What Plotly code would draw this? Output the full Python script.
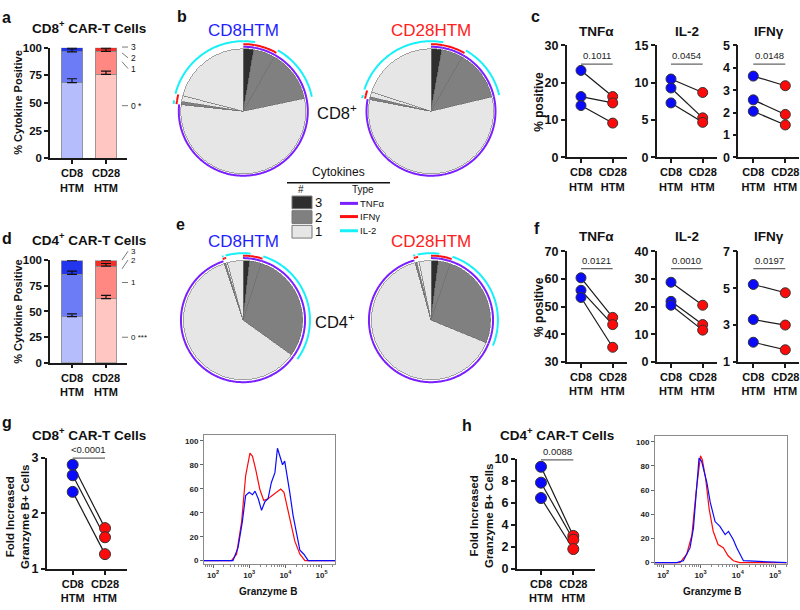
import copy
import numpy as np
import plotly.graph_objects as go

W, H = 800, 610
FN = "Liberation Sans, Arial, sans-serif"
FR = "Liberation Sans, Arial, sans-serif"

# ------------------------------------------------------------------ data
groups = ["CD8<br>HTM", "CD28<br>HTM"]
n_cytokines = ["1", "2", "3"]

# a: CD8+ CAR-T, % of cytokine+ cells making 1 / 2 / 3 cytokines (stacked)
a_cd8 = [68.5, 27.7, 3.8]
a_cd28 = [76.0, 20.8, 3.2]
a_cd8_err = [3.5, 2.8, 0.4]
a_cd28_err = [2.8, 2.3, 0.4]
a_side_labels = ["3", "2", "1", "0 *"]

# d: CD4+ CAR-T
d_cd8 = [45.0, 41.3, 13.4]
d_cd28 = [62.5, 31.8, 5.4]
d_cd8_err = [2.6, 3.2, 0.4]
d_cd28_err = [3.2, 2.6, 0.4]
d_side_labels = ["3", "2", "1", "0 ***"]

# b / e: SPICE pies (% of cytokine+ cells)
cytokines = ["TNFα", "IFNγ", "IL-2"]
spice_labels = ["TNFα+IFNγ+IL-2", "TNFα+IFNγ", "TNFα+IL-2", "TNFα",
                "IFNγ+IL-2", "IFNγ", "IL-2"]
pie_b_cd8 = [2.7, 5.5, 13.5, 55.0, 0.8, 1.5, 21.0]
pie_b_cd28 = [2.8, 5.5, 13.0, 56.7, 0.7, 1.3, 20.0]
pie_e_cd8 = [1.8, 3.1, 30.0, 60.0, 0.4, 0.5, 4.2]
pie_e_cd28 = [2.0, 3.2, 26.0, 64.5, 0.5, 0.6, 3.2]

# c / f panel order
panel_cytokines = ["TNFα", "IL-2", "IFNγ"]

# c: CD8+ % positive (paired donors)
c_tnf_cd8, c_tnf_cd28 = [23.3, 16.3, 13.9], [16.3, 14.6, 9.2]
c_il2_cd8, c_il2_cd28 = [10.5, 9.3, 7.3], [8.7, 5.3, 4.7]
c_ifn_cd8, c_ifn_cd28 = [3.63, 2.57, 2.06], [3.2, 1.92, 1.45]
c_pvals = ["0.1011", "0.0454", "0.0148"]

# f: CD4+ % positive
f_tnf_cd8, f_tnf_cd28 = [60.4, 55.9, 53.3], [46.1, 43.5, 35.3]
f_il2_cd8, f_il2_cd28 = [28.8, 21.9, 20.5], [20.5, 13.5, 11.5]
f_ifn_cd8, f_ifn_cd28 = [5.2, 3.3, 2.07], [4.75, 3.0, 1.66]
f_pvals = ["0.0121", "0.0010", "0.0197"]

# g / h: fold increase granzyme B+ cells
g_cd8, g_cd28 = [2.88, 2.69, 2.39], [1.735, 1.57, 1.265]
g_pval = "<0.0001"
h_cd8, h_cd28 = [9.3, 7.85, 6.45], [3.0, 2.65, 1.8]
h_pval = "0.0088"

# histograms (log10 granzyme B intensity, % of max)
g_red_log = [1.75, 2.51, 2.65, 2.79, 2.90, 3.02, 3.09, 3.18, 3.29, 3.40, 3.52,
             3.64, 3.77, 3.87, 3.96, 4.05, 4.14, 4.26, 4.40, 4.54, 5.37]
g_red_cnt = [0, 0, 5.4, 32.6, 70.7, 89.7, 87, 76, 59.8, 50.3, 51.6,
             54.3, 57, 59.8, 57, 46, 32.6, 16.3, 5.4, 0, 0]
g_blue_log = [1.75, 2.55, 2.69, 2.81, 2.90, 3.0, 3.09, 3.16, 3.25, 3.34, 3.43,
              3.52, 3.61, 3.71, 3.78, 3.84, 3.92, 3.98, 4.05, 4.12, 4.21,
              4.31, 4.40, 4.51, 4.63, 5.37]
g_blue_cnt = [0, 0, 10.9, 32.6, 54.3, 57, 55, 58, 51.6, 42, 49,
              51.6, 65, 73.4, 93.8, 88.3, 80, 83, 70.7, 57, 38,
              21.7, 8.7, 5.4, 0, 0]
h_red_log = [1.78, 2.45, 2.63, 2.77, 2.88, 3.0, 3.05, 3.14, 3.23, 3.34, 3.47,
             3.61, 3.74, 3.88, 4.05, 5.31]
h_red_cnt = [0, 0, 7, 23, 58, 88.4, 85, 69, 44.7, 26, 15, 12.4, 5.7, 1.6, 0, 0]
h_blue_log = [1.78, 2.36, 2.54, 2.72, 2.81, 2.88, 2.96, 3.03, 3.09, 3.17, 3.26,
              3.39, 3.52, 3.66, 3.75, 3.88, 3.97, 4.15, 5.31]
h_blue_cnt = [0, 0, 1.6, 12.4, 28.6, 55.5, 86.5, 83.8, 77, 66.3, 50,
              34, 30, 23.2, 25.9, 19, 12.4, 1.6, 0]
hist_ticks = [2, 3, 4, 5]

# ------------------------------------------------------------------ styles
BLUE, RED = "#0a0aff", "#ff0a0a"
blue_shades = ["#b6bdfd", "#6c7cf6", "#2336ee"]
red_shades = ["#ffc6c2", "#ff8882", "#f2302a"]
pie_shades = {1: "#e6e6e6", 2: "#808080", 3: "#2e2e2e"}
cyt_colors = {"TNFα": "#7a1fff", "IFNγ": "#ff1010", "IL-2": "#18f0f8"}

fig = go.Figure()

GP = dict(showline=True, linecolor="#1a1a1a", linewidth=1.5, ticks="outside",
          ticklen=4, tickwidth=1.5, tickcolor="#1a1a1a", showgrid=False,
          zeroline=False, fixedrange=True,
          tickfont=dict(family=FN, size=12.5, color="#111", weight="bold"))
_n = [0]


def add_axes(xpx, ypx, xr, yr, xkw=None, ykw=None, base=GP):
    _n[0] += 1
    s = "" if _n[0] == 1 else str(_n[0])
    xa = copy.deepcopy(base)
    ya = copy.deepcopy(base)
    xa.update(domain=[xpx[0] / W, xpx[1] / W], range=xr, anchor="y" + s)
    ya.update(domain=[1 - ypx[1] / H, 1 - ypx[0] / H], range=yr, anchor="x" + s)
    xa.update(xkw or {})
    ya.update(ykw or {})
    fig.update_layout({"xaxis" + s: xa, "yaxis" + s: ya})
    return "x" + s, "y" + s


def cat_range(L, p0, p1, R):
    u = p1 - p0
    return [-(p0 - L) / u, 1 + (R - p1) / u]


def text(px, py, s, size, bold=False, color="#111", family=FN,
         xanchor="center", yanchor="middle", angle=0):
    fig.add_annotation(x=px / W, y=1 - py / H, xref="paper", yref="paper",
                       text=s, showarrow=False, textangle=angle,
                       xanchor=xanchor, yanchor=yanchor, borderpad=0,
                       font=dict(family=family, size=size, color=color,
                                 weight="bold" if bold else "normal"))


def pline(x0, y0, x1, y1, color="#111", width=1.0):
    fig.add_shape(type="line", xref="paper", yref="paper",
                  x0=x0 / W, y0=1 - y0 / H, x1=x1 / W, y1=1 - y1 / H,
                  line=dict(color=color, width=width))


CATX = dict(type="category", categoryorder="array", categoryarray=groups,
            tickfont=dict(family=FN, size=11, color="#111", weight="bold"))


# ------------------------------------------------------------------ stacked bars (a, d)
def stacked_panel(cd8, cd28, e8, e28, ytop, ybot):
    xa, ya = add_axes((50, 127), (ytop, ybot), cat_range(50, 72, 106, 127),
                      [0, 100], xkw=CATX,
                      ykw=dict(dtick=25, tick0=0,
                               tickfont=dict(family=FN, size=11.5, color="#111",
                                             weight="bold")))
    for k in range(len(n_cytokines)):
        fig.add_trace(go.Bar(
            x=groups, y=[cd8[k], cd28[k]], width=0.62, xaxis=xa, yaxis=ya,
            name=n_cytokines[k],
            marker=dict(color=[blue_shades[k], red_shades[k]],
                        line=dict(color="#8a8a8a", width=0.8)),
            showlegend=False, hoverinfo="skip"))
    # error bars drawn above all segments, at each segment's stacked top
    tops8, tops28 = np.cumsum(cd8), np.cumsum(cd28)
    for k in range(len(n_cytokines)):
        fig.add_trace(go.Scatter(
            x=groups, y=[tops8[k], tops28[k]], mode="markers",
            marker=dict(size=1, color="rgba(0,0,0,0)"), xaxis=xa, yaxis=ya,
            error_y=dict(type="data", symmetric=False, array=[e8[k], e28[k]],
                         arrayminus=[0, 0], color="#111", thickness=1.2, width=5),
            cliponaxis=False, showlegend=False, hoverinfo="skip"))


stacked_panel(a_cd8, a_cd28, a_cd8_err, a_cd28_err, 41.7, 155)
stacked_panel(d_cd8, d_cd28, d_cd8_err, d_cd28_err, 259.3, 364)

# side labels for the stacked bars
for lab, (ya0, ya1) in zip(a_side_labels, [(41, 41), (47, 52), (56, 63), (101, 101)]):
    pline(122, ya0, 128, ya1, color="#555", width=0.8)
    text(130, ya1, lab, 8.5, family=FR, xanchor="left")
for lab, (ya0, ya1) in zip(d_side_labels, [(259, 250), (268, 259), (282, 282), (338, 338)]):
    pline(122, ya0, 128, ya1, color="#555", width=0.8)
    text(130, ya1, lab, 8, family=FR, xanchor="left")


# ------------------------------------------------------------------ paired dot panels
def pair_panel(xpx, ypx, yr, dtick, tick0, v8, v28, pval, p_py, msize=10):
    L, p0, p1, R = xpx
    xa, ya = add_axes((L, R), ypx, cat_range(L, p0, p1, R), yr,
                      xkw=CATX, ykw=dict(dtick=dtick, tick0=tick0))
    for a, b in zip(v8, v28):
        fig.add_trace(go.Scatter(x=groups, y=[a, b], mode="lines",
                                 line=dict(color="#1a1a1a", width=1.2),
                                 xaxis=xa, yaxis=ya, cliponaxis=False,
                                 showlegend=False, hoverinfo="skip"))
    for g, vals, col in ((groups[0], v8, BLUE), (groups[1], v28, RED)):
        fig.add_trace(go.Scatter(x=[g] * len(vals), y=vals, mode="markers",
                                 marker=dict(color=col, size=msize,
                                             line=dict(color="#333", width=1)),
                                 xaxis=xa, yaxis=ya, cliponaxis=False,
                                 showlegend=False, hoverinfo="skip"))
    fig.add_shape(type="line", xref=xa, yref="paper", x0=0, x1=1,
                  y0=1 - (p_py + 8.5) / H, y1=1 - (p_py + 8.5) / H,
                  line=dict(color="#666", width=1.2))
    text((p0 + p1) / 2, p_py, pval, 9.5, family=FR, color="#222")
    return xa, ya


c_x = [(566.7, 581, 612.7, 627), (656.7, 671, 702.7, 717), (738.3, 753.3, 785.3, 799)]
c_sets = [(c_tnf_cd8, c_tnf_cd28, [0, 30], 10, 0),
          (c_il2_cd8, c_il2_cd28, [0, 15], 5, 0),
          (c_ifn_cd8, c_ifn_cd28, [0, 5], 1, 0)]
for xpx, (v8, v28, yr, dt, t0), cyt, pv in zip(c_x, c_sets, panel_cytokines, c_pvals):
    pair_panel(xpx, (39.3, 154), yr, dt, t0, v8, v28, pv, 50)
    text((xpx[1] + xpx[2]) / 2, 25, cyt, 13.5, bold=True)

f_sets = [(f_tnf_cd8, f_tnf_cd28, [30, 70], 10, 30),
          (f_il2_cd8, f_il2_cd28, [0, 40], 10, 0),
          (f_ifn_cd8, f_ifn_cd28, [1, 7], 2, 1)]
for xpx, (v8, v28, yr, dt, t0), cyt, pv in zip(c_x, f_sets, panel_cytokines, f_pvals):
    pair_panel(xpx, (250, 363.3), yr, dt, t0, v8, v28, pv, 259.3)
    text((xpx[1] + xpx[2]) / 2, 235, cyt, 13.5, bold=True)

pair_panel((46.7, 72.7, 105, 126.7), (461.7, 575), [1, 3], 1, 1,
           g_cd8, g_cd28, g_pval, 453.3, msize=11)
pair_panel((516.7, 541, 573.3, 595), (462.7, 575), [0, 10], 2, 0,
           h_cd8, h_cd28, h_pval, 455, msize=11)

# ------------------------------------------------------------------ histograms
HB = dict(showline=True, mirror=True, linecolor="#8a8a8a", linewidth=1,
          ticks="outside", ticklen=3, tickwidth=1, tickcolor="#666",
          showgrid=False, zeroline=False, fixedrange=True,
          tickfont=dict(family=FR, size=8, color="#222", weight="bold"))
minor_vals = [k * 10 ** e for e in range(1, 6) for k in range(2, 10)]


def hist_panel(xpx, ypx, xr, yr, red_log, red_cnt, blue_log, blue_cnt):
    xa, ya = add_axes(xpx, ypx, xr, yr, base=HB,
                      xkw=dict(type="log", tickvals=[10 ** t for t in hist_ticks],
                               ticktext=["10<sup>%d</sup>" % t for t in hist_ticks],
                               minor=dict(ticks="outside", ticklen=2, tickcolor="#888",
                                          tickvals=minor_vals)),
                      ykw=dict(tickvals=[0, 20, 40, 60, 80, 100]))
    for lg, cnt, col in ((red_log, red_cnt, RED), (blue_log, blue_cnt, BLUE)):
        fig.add_trace(go.Scatter(x=[10 ** v for v in lg], y=cnt, mode="lines",
                                 line=dict(color=col, width=1.2),
                                 xaxis=xa, yaxis=ya, showlegend=False,
                                 hoverinfo="skip"))


hist_panel((204, 335), (437.7, 570), [1.75, 5.37], [-2.7, 105.1],
           g_red_log, g_red_cnt, g_blue_log, g_blue_cnt)
hist_panel((655, 786.7), (439.3, 570), [1.78, 5.31], [-1.05, 104.6],
           h_red_log, h_red_cnt, h_blue_log, h_blue_cnt)
text(268, 598, "Granzyme B", 10, bold=True)
text(711.7, 598, "Granzyme B", 10, bold=True)


# ------------------------------------------------------------------ SPICE pies
def add_pie(pid, values, cx, cy, R, ring_r):
    vals = np.asarray(values, float)
    widths = vals / vals.sum() * 360
    starts = np.cumsum(widths) - widths
    ncyt = [len(l.split("+")) for l in spice_labels]
    fig.add_trace(go.Barpolar(r=np.full(len(vals), R), theta=starts + widths / 2,
                              width=widths, subplot=pid,
                              marker=dict(color=[pie_shades[n] for n in ncyt],
                                          line=dict(color="#6e6e6e", width=0.6)),
                              showlegend=False, hoverinfo="skip"))
    for cyt, rr in zip(cytokines, ring_r):
        for i, lab in enumerate(spice_labels):
            if cyt in lab.split("+"):
                th = np.linspace(starts[i], starts[i] + widths[i],
                                 max(3, int(widths[i]) + 2))
                fig.add_trace(go.Scatterpolar(r=np.full(len(th), rr), theta=th,
                                              mode="lines", subplot=pid,
                                              line=dict(color=cyt_colors[cyt], width=2),
                                              showlegend=False, hoverinfo="skip"))
    half = 74
    fig.update_layout({pid: dict(
        domain=dict(x=[(cx - half) / W, (cx + half) / W],
                    y=[1 - (cy + half) / H, 1 - (cy - half) / H]),
        bgcolor="rgba(0,0,0,0)", bargap=0,
        angularaxis=dict(visible=False, rotation=90, direction="clockwise"),
        radialaxis=dict(visible=False, range=[0, half]))})


add_pie("polar", pie_b_cd8, 243.3, 106.7, 64, (66, 68.7, 71.7))
add_pie("polar2", pie_b_cd28, 431, 106.7, 64, (66, 68.7, 71.7))
add_pie("polar3", pie_e_cd8, 243, 320.5, 61, (63.5, 66, 68.5))
add_pie("polar4", pie_e_cd28, 431, 320.5, 61, (63.5, 66, 68.5))

text(243.3, 24, "CD8HTM", 17, family=FN, color="#1f1fff")
text(431, 24, "CD28HTM", 17, family=FN, color="#ff2020")
text(243, 240, "CD8HTM", 17, family=FN, color="#1f1fff")
text(431, 240, "CD28HTM", 17, family=FN, color="#ff2020")
text(337, 107, "CD8<sup>+</sup>", 16.5, family=FN)
text(335, 321, "CD4<sup>+</sup>", 16.5, family=FN)

# ------------------------------------------------------------------ pie legend
text(338, 169, "Cytokines", 12, family=FN)
pline(287, 180, 390, 180, width=1.5)
text(301, 187, "#", 10, family=FN)
text(363, 187, "Type", 10, family=FN)
for k, (n, yy) in enumerate(zip([3, 2, 1], [200, 215, 230])):
    fig.add_shape(type="rect", xref="paper", yref="paper",
                  x0=292 / W, x1=312 / W, y0=1 - (yy + 6.5) / H, y1=1 - (yy - 6.5) / H,
                  fillcolor=pie_shades[n], line=dict(color="#777", width=1))
    text(314, yy, str(n), 13, family=FN, xanchor="left")
for cyt, yy in zip(cytokines, [201, 214.5, 229]):
    pline(340, yy, 358, yy, color=cyt_colors[cyt], width=3)
    text(359, yy, cyt, 9.5, family=FN, xanchor="left")

# ------------------------------------------------------------------ titles / labels
for lab, px, py in [("a", 6.5, 11), ("b", 182, 10), ("c", 535, 10), ("d", 7, 237),
                    ("e", 180, 223), ("f", 537, 227), ("g", 7, 425), ("h", 467, 428)]:
    text(px, py, lab, 16, bold=True, family=FR)

text(89, 20, "CD8<sup>+</sup> CAR-T Cells", 13.5, bold=True)
text(89, 237, "CD4<sup>+</sup> CAR-T Cells", 13.5, bold=True)
text(89, 437, "CD8<sup>+</sup> CAR-T Cells", 13.5, bold=True)
text(557, 437, "CD4<sup>+</sup> CAR-T Cells", 13.5, bold=True)
text(18, 98, "% Cytokine Positive", 11, bold=True, angle=-90)
text(18, 312, "% Cytokine Positive", 11, bold=True, angle=-90)
text(539, 97, "% positive", 12, bold=True, angle=-90)
text(539, 307, "% positive", 12, bold=True, angle=-90)
text(17, 522, "Fold Increased<br>Granzyme B+ Cells", 11.5, bold=True, angle=-90)
text(481, 520, "Fold Increased<br>Granzyme B+ Cells", 11.5, bold=True, angle=-90)

fig.update_layout(width=W, height=H, autosize=False,
                  margin=dict(l=0, r=0, t=0, b=0),
                  paper_bgcolor="white", plot_bgcolor="rgba(0,0,0,0)",
                  showlegend=False, barmode="stack")

fig.write_html("out.html", config={"displayModeBar": False},
               post_script="document.body.style.margin='0px';"
                           "document.body.style.overflow='hidden';")
